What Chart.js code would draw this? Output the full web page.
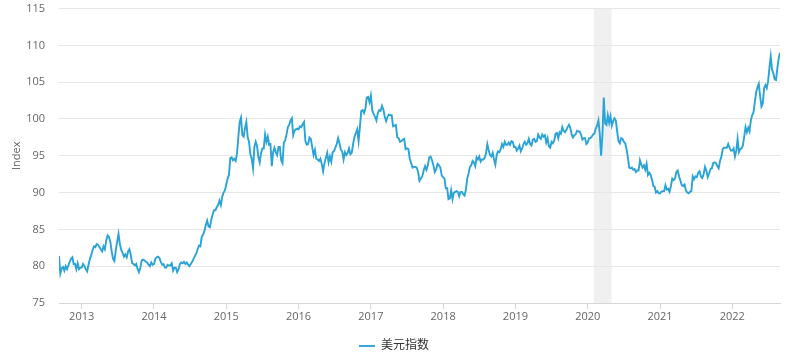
<!DOCTYPE html>
<html>
<head>
<meta charset="utf-8">
<script src="https://cdn.jsdelivr.net/npm/chart.js@4/dist/chart.umd.min.js"></script>
<style>
  html, body { margin: 0; padding: 0; background: #fff; }
  #wrap { width: 788px; height: 354px; }
</style>
</head>
<body>
<div id="wrap"><canvas id="myChart"></canvas></div>
<script>
// US dollar index, about one reading a week
const dxy2012 = [81.4, 79.0, 79.7, 79.9, 79.4, 80.0, 79.6, 80.1, 80.6, 81.0, 81.2, 80.3, 80.3, 79.6, 80.4, 79.6, 79.8];
const dxy2013 = [79.8, 80.3, 80.0, 79.6, 79.3, 80.2, 81.0, 81.5, 82.2, 82.7, 82.6, 83.0, 82.9, 82.6, 82.3, 82.0, 82.7,
  82.3, 83.5, 84.2, 84.0, 83.3, 82.0, 81.0, 80.7, 82.2, 83.3, 84.4, 83.0, 82.2, 81.8, 81.3, 81.6, 81.2, 82.0,
  82.3, 81.5, 80.4, 80.3, 80.1, 80.3, 79.6, 79.2, 79.8, 80.8, 80.9, 80.8, 80.6, 80.5, 80.2, 80.0, 80.5, 80.2];
const dxy2014 = [80.3, 81.0, 81.2, 81.3, 81.1, 80.6, 80.2, 80.3, 79.8, 79.8, 80.2, 80.1, 80.1, 80.4, 79.4, 79.8, 79.8,
  79.2, 79.6, 80.3, 80.5, 80.4, 80.6, 80.3, 80.5, 80.2, 80.0, 80.3, 80.6, 81.0, 81.4, 81.7, 82.3, 82.8, 82.7,
  84.0, 84.3, 84.8, 85.6, 86.2, 85.4, 85.3, 86.3, 87.0, 87.6, 87.6, 88.0, 88.3, 88.9, 88.3, 89.4, 90.0, 90.3];
const dxy2015 = [91.1, 91.9, 92.4, 94.7, 94.8, 94.4, 94.6, 94.3, 95.3, 97.5, 99.6, 100.2, 97.8, 97.6, 98.8, 99.6, 97.5,
  96.9, 95.2, 94.6, 93.3, 96.2, 96.9, 96.3, 94.8, 94.1, 95.4, 96.0, 96.0, 97.9, 96.9, 97.6, 96.5, 96.6, 93.6,
  95.5, 96.1, 95.5, 95.1, 96.2, 96.2, 94.4, 94.0, 96.8, 97.1, 97.9, 98.9, 99.2, 99.8, 100.1, 97.8, 98.4, 98.6, 98.7];
const dxy2016 = [98.6, 99.0, 98.9, 99.3, 99.6, 97.0, 96.5, 96.6, 97.5, 97.3, 96.2, 95.1, 95.8, 94.6, 94.5, 94.3, 94.6,
  93.9, 92.9, 94.0, 94.7, 95.4, 94.1, 94.9, 94.2, 95.5, 95.6, 96.1, 96.6, 97.4, 96.7, 95.8, 95.6, 94.5, 95.5,
  95.1, 95.4, 96.0, 95.2, 95.4, 96.6, 97.6, 98.1, 98.6, 97.0, 99.0, 101.1, 101.2, 100.8, 101.4, 102.9, 103.0, 102.3];
const dxy2017 = [103.2, 101.2, 100.7, 100.3, 99.8, 100.8, 101.2, 101.1, 101.8, 101.3, 100.3, 99.7, 100.3, 100.6, 100.5,
  100.5, 99.0, 99.1, 99.2, 97.5, 97.4, 96.9, 97.0, 97.2, 97.3, 95.9, 96.0, 95.9, 94.6, 94.0, 93.4, 93.5, 93.5,
  93.4, 92.8, 91.6, 91.9, 92.2, 93.0, 93.6, 93.1, 93.7, 94.8, 94.9, 94.4, 93.7, 92.8, 93.2, 93.9, 93.7, 93.4, 92.3];
const dxy2018 = [92.1, 91.9, 90.6, 90.6, 89.1, 89.2, 90.3, 89.1, 90.0, 90.1, 90.2, 90.1, 89.5, 90.1, 90.1, 89.8, 89.6,
  90.4, 91.9, 92.6, 93.5, 93.7, 94.3, 94.1, 93.6, 94.8, 94.5, 94.9, 94.2, 94.5, 94.5, 94.7, 95.3, 96.6, 95.8,
  95.1, 94.9, 95.4, 94.5, 93.8, 95.1, 95.6, 95.5, 95.9, 96.6, 96.2, 96.9, 96.5, 96.5, 96.8, 96.5, 97.0, 96.9, 96.2];
const dxy2019 = [96.2, 95.7, 96.0, 96.4, 95.6, 96.0, 96.6, 96.9, 96.5, 96.7, 97.3, 96.6, 96.4, 97.2, 97.3, 96.9, 97.0,
  97.9, 97.5, 97.3, 97.9, 97.6, 97.8, 96.8, 97.4, 96.3, 96.1, 96.9, 96.7, 97.1, 98.0, 98.1, 97.4, 98.2, 98.0,
  98.9, 98.4, 98.2, 98.5, 98.9, 99.2, 98.8, 97.9, 97.5, 97.8, 97.9, 98.4, 98.3, 98.3, 97.9, 97.2, 97.4, 97.4, 96.6];
const dxy2020 = [96.8, 97.4, 97.4, 97.6, 97.9, 98.0, 98.7, 99.1, 99.8, 98.0, 95.0, 97.9, 102.9, 99.4, 99.2, 100.5,
  99.5, 100.4, 99.1, 99.7, 100.1, 99.8, 98.3, 97.0, 96.7, 97.4, 97.3, 96.9, 96.7, 95.9, 94.8, 93.4, 93.3, 93.4,
  93.1, 93.2, 92.8, 93.0, 93.0, 94.4, 93.8, 93.4, 93.7, 93.1, 93.9, 92.4, 92.7, 92.4, 91.8, 90.9, 90.8, 90.0, 90.2, 89.9];
const dxy2021 = [89.9, 90.1, 90.2, 90.2, 91.0, 90.4, 90.5, 90.1, 90.9, 91.9, 91.7, 91.9, 92.8, 93.0, 92.2, 91.6, 91.0,
  90.9, 91.1, 90.3, 90.0, 89.9, 90.1, 90.2, 92.2, 91.8, 92.2, 92.1, 92.7, 92.9, 92.2, 92.0, 92.5, 93.5, 93.0,
  92.1, 92.6, 93.2, 93.3, 94.0, 94.1, 94.0, 93.6, 93.3, 94.3, 94.9, 95.9, 96.1, 96.1, 96.1, 96.6, 96.1, 95.7];
const dxy2022 = [95.7, 96.0, 94.9, 95.7, 97.3, 95.5, 95.9, 96.0, 96.4, 97.6, 98.9, 98.2, 98.8, 98.3, 99.8, 100.5,
  100.9, 102.3, 103.6, 104.3, 104.8, 103.1, 101.7, 102.1, 104.2, 104.6, 104.2, 105.1, 106.9, 108.5, 106.7,
  106.2, 105.4, 105.3, 106.9, 108.2, 109.0];

const years = [2012, 2013, 2014, 2015, 2016, 2017, 2018, 2019, 2020, 2021, 2022];
const yearValues = [dxy2012, dxy2013, dxy2014, dxy2015, dxy2016, dxy2017, dxy2018, dxy2019, dxy2020, dxy2021, dxy2022];
const firstDay = 2012.686;   // ~ Sep 2012
const lastDay = 2022.66;     // ~ end Aug 2022
const recession = [2020.085, 2020.33];
const yTicks = [75, 80, 85, 90, 95, 100, 105, 110, 115];
const seriesName = '美元指数';

// spread each year's readings over that year
const spread = (year, vals) => {
    let from = Math.max(year, firstDay);
    let to = Math.min(year + 1, lastDay);
    let n = year === years[years.length - 1] ? vals.length - 1 : vals.length;
    let step = (to - from) / n;
    return vals.map((v, i) => ({ x: from + i * step, y: v }));
};

let points = [];
years.forEach((yr, i) => { points = points.concat(spread(yr, yearValues[i])); });

// grey band for the recession
const shadePlugin = {
    id: 'shade',
    beforeDraw(chart) {
        const { ctx, chartArea, scales } = chart;
        let x1 = scales.x.getPixelForValue(recession[0]);
        let x2 = scales.x.getPixelForValue(recession[1]);
        ctx.save();
        ctx.fillStyle = '#f0f0f0';
        ctx.fillRect(x1, chartArea.top, x2 - x1, chartArea.bottom - chartArea.top);
        ctx.restore();
    }
};

const font = "'Open Sans', 'Noto Sans CJK SC', sans-serif";

new Chart(document.getElementById('myChart'), {
    type: 'line',
    data: {
        datasets: [{
            label: seriesName,
            data: points,
            borderColor: '#2aa3d6',
            backgroundColor: '#2aa3d6',
            borderWidth: 1.9,
            pointRadius: 0,
            tension: 0
        }]
    },
    options: {
        responsive: true,
        maintainAspectRatio: false,
        animation: false,
        layout: { padding: { top: 0, right: 8, left: 8, bottom: -8 } },
        plugins: {
            legend: {
                position: 'bottom',
                labels: {
                    usePointStyle: true,
                    pointStyle: 'line',
                    pointStyleWidth: 16,
                    color: '#333',
                    font: { family: font, size: 12 },
                    padding: 2
                }
            },
            tooltip: { enabled: false }
        },
        scales: {
            x: {
                type: 'linear',
                min: firstDay,
                max: lastDay,
                afterFit: scale => { scale.height = 35; },
                grid: { display: true, drawOnChartArea: false, drawTicks: true, tickLength: 6, color: '#d6d6d6' },
                border: { display: true, color: '#d6d6d6' },
                ticks: {
                    stepSize: 1,
                    includeBounds: false,
                    color: '#666',
                    font: { family: font, size: 11 },
                    padding: 1,
                    maxRotation: 0,
                    callback: v => String(v)
                }
            },
            y: {
                min: 75,
                max: 115,
                afterBuildTicks: axis => { axis.ticks = yTicks.map(v => ({ value: v })); },
                afterFit: scale => { scale.width = 51; },
                grid: { color: '#e6e6e6', drawTicks: true, tickLength: 12, tickColor: 'rgba(0,0,0,0)' },
                border: { display: false },
                ticks: { color: '#666', font: { family: font, size: 11 }, padding: 2 },
                title: { display: true, text: 'Index', color: '#666', font: { family: font, size: 11 }, padding: 2 }
            }
        }
    },
    plugins: [shadePlugin]
});
</script>
</body>
</html>
